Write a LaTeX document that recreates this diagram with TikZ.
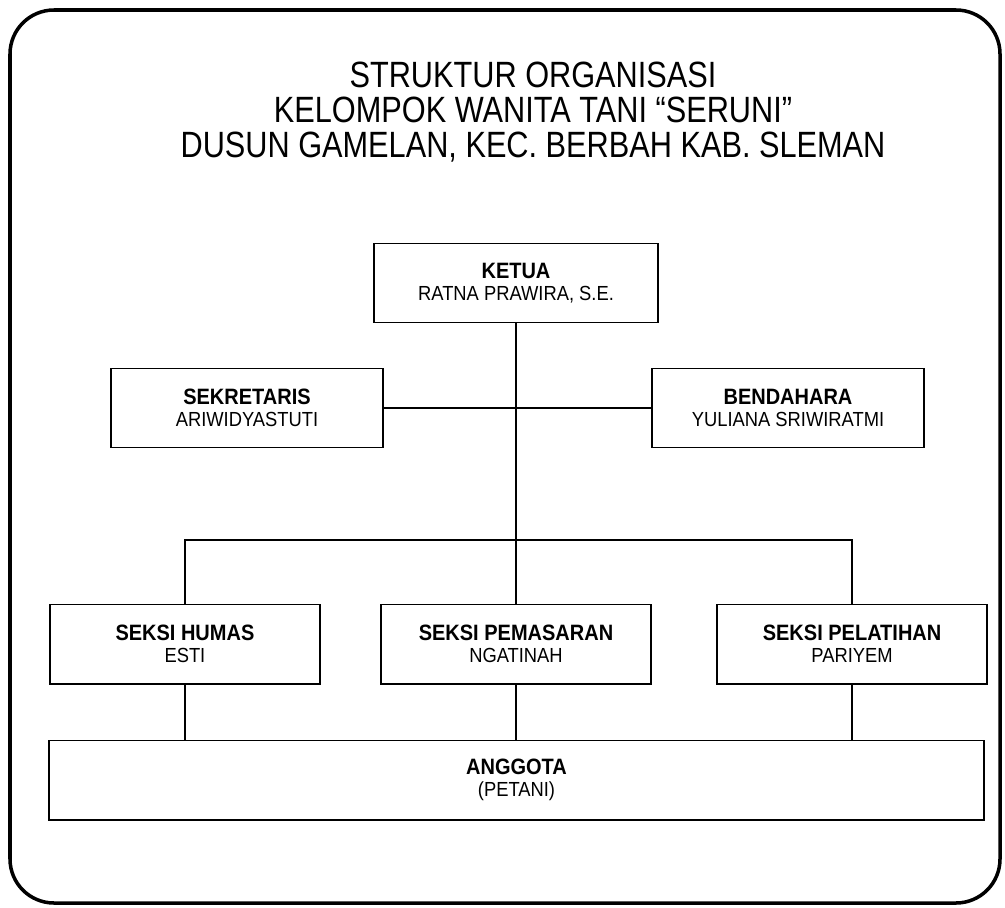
\documentclass[tikz,border=0pt]{standalone}
\usepackage{fontspec}
\setmainfont{Liberation Sans}[FakeStretch=0.9]
\newfontfamily\judulfont{Liberation Sans}[FakeStretch=0.84]
\usepackage{tikz}
\usetikzlibrary{positioning}
\newcommand{\jabatan}[2]{{\fontsize{15.8}{15.5}\selectfont\bfseries #1}\\#2}

\tikzset{
  box/.style={draw, line width=1.4pt, minimum width=6.8cm, minimum height=1.975cm,
    inner sep=2pt, align=center, font=\fontsize{14.5}{15.5}\selectfont},
  link/.style={line width=1pt},
  frame/.style={line width=2.5pt, rounded corners=1.1cm},
}

\begin{document}
\begin{tikzpicture}[x=0.025cm, y=-0.025cm]
    \useasboundingbox (0,0) rectangle (1005,907);
    \draw[frame] (10,10) rectangle (1000,903);

    \node[align=center, font=\judulfont\fontsize{26}{25}\selectfont] (judul) at (533,112)
      {STRUKTUR ORGANISASI\\KELOMPOK WANITA TANI “SERUNI”\\DUSUN GAMELAN, KEC. BERBAH KAB. SLEMAN};

    \node[box, minimum width=7.1cm] (ketua) at (516,283) {\jabatan{KETUA}{RATNA PRAWIRA, S.E.}};
    \node[box] (sekretaris) at (247,408) {\jabatan{SEKRETARIS}{ARIWIDYASTUTI}};
    \node[box] (bendahara) at (788,408) {\jabatan{BENDAHARA}{YULIANA SRIWIRATMI}};
    \node[box, minimum width=6.75cm] (pemasaran) at (516,644) {\jabatan{SEKSI PEMASARAN}{NGATINAH}};
    \node[box, minimum width=6.75cm, left=1.475cm of pemasaran] (humas) {\jabatan{SEKSI HUMAS}{ESTI}};
    \node[box, minimum width=6.75cm, right=1.6cm of pemasaran] (pelatihan) {\jabatan{SEKSI PELATIHAN}{PARIYEM}};
    \node[box, minimum width=23.35cm] (anggota) at (516.5,780) {\jabatan{ANGGOTA}{(PETANI)}};
    \coordinate (cabang) at (516,540);

    % Connect the boxes
    \draw[link] (ketua) -- (pemasaran); %
    \draw[link] (sekretaris) -- (bendahara); %
    \draw[link] (humas) |- (cabang) -| (pelatihan); %
    \draw[link] (humas.south) -- (humas.south |- anggota.north); %
    \draw[link] (pemasaran.south) -- (pemasaran.south |- anggota.north); %
    \draw[link] (pelatihan.south) -- (pelatihan.south |- anggota.north); %
\end{tikzpicture}
\end{document}
